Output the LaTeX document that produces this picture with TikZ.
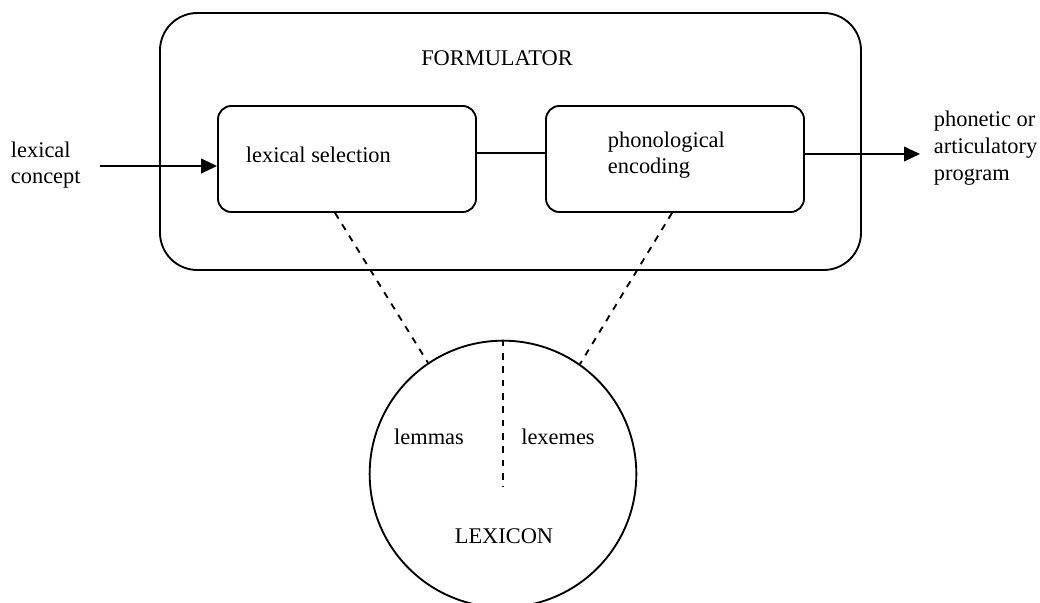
\documentclass[tikz,border=0pt]{standalone}
\usepackage{fontspec}
\setmainfont{Liberation Serif}
\usetikzlibrary{arrows.meta,calc}

\tikzset{every picture/.style={line width=1.4pt}}
\tikzset{
  stagebox/.style={draw, rounded corners=10pt, minimum width=193.5pt, minimum height=79.5pt},
  lexlink/.style={dash pattern=on 5pt off 5pt},
  flow/.style={-{Triangle[length=12pt,width=11pt]}},
  lbl/.style={font=\fontsize{16.8pt}{20pt}\selectfont, inner sep=0pt, align=left}
}

\begin{document}
\begin{tikzpicture}[x=0.75pt,y=0.75pt,yscale=-1,xscale=1]
		\useasboundingbox (0,0) rectangle (1040,603);
		
		%Rounded Rect: formulator
		\draw [rounded corners=28pt] (160,13) rectangle (861,270) ;
		% Text Node
		\node [lbl] (formtxt) at (497,58) {FORMULATOR};
		
		%Rounded Rect: stages
		\node [stagebox] (lexsel) at (347,159) {};
		\node [stagebox] (phon) at (675,159) {};
		% Text Node
		\node [lbl, anchor=west] (lexseltxt) at (245,155) {lexical selection};
		% Text Node
		\node [lbl, anchor=west] (phontxt) at (607,155) {phonological\\encoding};
		
		%Circle: lexicon
		\node [draw, circle, minimum size=200pt, inner sep=0pt] (lex) at (503,474) {};
		% Text Node
		\node [lbl] (lemtxt) at (429,437) {lemmas};
		% Text Node
		\node [lbl] (lxmtxt) at (558,437) {lexemes};
		% Text Node
		\node [lbl] (lextxt) at (504,536) {LEXICON};
		
		% Text Node
		\node [lbl, anchor=west] (concept) at (10,165) {lexical\\concept};
		% Text Node
		\node [lbl, anchor=west] (program) at (933,148) {phonetic or\\articulatory\\program};
		\coordinate (cin) at (100,166);
		\coordinate (cout) at (920,154);
		
		%Straight Lines
		\draw [flow] (cin) -- (cin -| lexsel.west) ;
		\draw ([yshift=-4.5pt]lexsel.east) -- ([yshift=-4.5pt]phon.west) ;
		\draw [flow] (phon.east |- cout) -- (cout) ;
		
		%Dashed Lines
		\draw [lexlink] ($(lexsel.south)+(-12,0)$) -- (lex.124) ;
		\draw [lexlink] ($(phon.south)+(-3,0)$) -- (lex.55) ;
		\draw [lexlink] (lex.north) -- ($(lex.center)+(0,13)$) ;
		
\end{tikzpicture}
\end{document}
